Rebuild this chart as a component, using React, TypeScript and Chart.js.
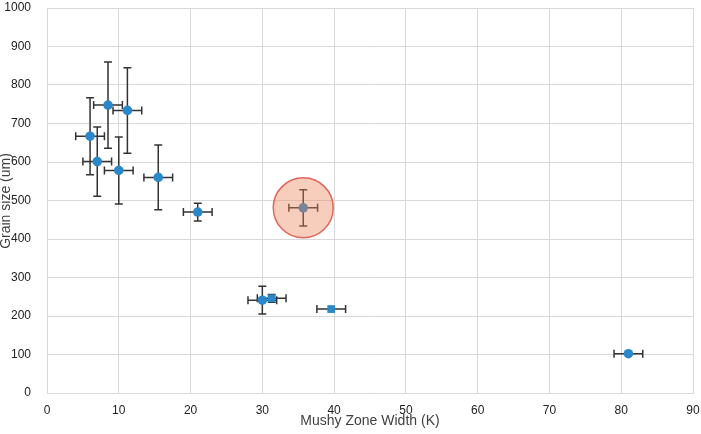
import React, { useEffect, useRef } from "react";
import { Chart, registerables } from "chart.js";

Chart.register(...registerables);

// Round markers: mushy zone width (K) vs grain size (um)
const circleX = [6.0, 8.5, 11.2, 7.0, 10.0, 15.5, 21.0, 35.7, 30.0, 81.0];
const circleY = [667, 748, 734, 601, 578, 560, 470, 481, 241, 102];
const circleXErr = [2, 2, 2, 2, 2, 2, 2, 2, 2, 2];
const circleYErr = [100, 112, 111, 90, 87, 84, 23, 47, 36, 0];

// Square markers
const squareX = [31.3, 39.6];
const squareY = [246, 218];
const squareXErr = [2, 2];
const squareYErr = [10, 0];

// Highlighted sample (index into the round-marker arrays)
const highlightIndex = 7;

const xTicks = [0, 10, 20, 30, 40, 50, 60, 70, 80, 90];
const yTicks = [0, 100, 200, 300, 400, 500, 600, 700, 800, 900, 1000];

const xTitle = "Mushy Zone Width (K)";
const yTitle = "Grain size (um)";

const FONT = "'Liberation Sans', Arial, sans-serif";
const BLUE = "#2a87c8";

const errorBars = {
  id: "errorBars",
  beforeDatasetsDraw(chart: any) {
    const { ctx } = chart;
    const xs = chart.scales.x;
    const ys = chart.scales.y;
    const cap = 4;
    ctx.save();
    ctx.strokeStyle = "#333333";
    ctx.lineWidth = 1.5;
    chart.data.datasets.forEach((ds: any) => {
      ds.data.forEach((p: any, i: number) => {
        const px = xs.getPixelForValue(p.x);
        const py = ys.getPixelForValue(p.y);
        const ex = ds.xErr[i];
        const ey = ds.yErr[i];
        ctx.beginPath();
        if (ex > 0) {
          const l = xs.getPixelForValue(p.x - ex);
          const r = xs.getPixelForValue(p.x + ex);
          ctx.moveTo(l, py);
          ctx.lineTo(r, py);
          ctx.moveTo(l, py - cap);
          ctx.lineTo(l, py + cap);
          ctx.moveTo(r, py - cap);
          ctx.lineTo(r, py + cap);
        }
        if (ey > 0) {
          const t = ys.getPixelForValue(p.y + ey);
          const b = ys.getPixelForValue(p.y - ey);
          ctx.moveTo(px, t);
          ctx.lineTo(px, b);
          ctx.moveTo(px - cap, t);
          ctx.lineTo(px + cap, t);
          ctx.moveTo(px - cap, b);
          ctx.lineTo(px + cap, b);
        }
        ctx.stroke();
      });
    });
    ctx.restore();
  },
};

const highlight = {
  id: "highlight",
  afterDatasetsDraw(chart: any) {
    const { ctx } = chart;
    const px = chart.scales.x.getPixelForValue(circleX[highlightIndex]);
    const py = chart.scales.y.getPixelForValue(circleY[highlightIndex]);
    ctx.save();
    ctx.beginPath();
    ctx.arc(px, py, 30, 0, Math.PI * 2);
    ctx.fillStyle = "rgba(235,130,85,0.4)";
    ctx.fill();
    ctx.lineWidth = 1.5;
    ctx.strokeStyle = "rgba(220,80,70,0.85)";
    ctx.stroke();
    ctx.restore();
  },
};

const titles = {
  id: "titles",
  afterDraw(chart: any) {
    const { ctx, chartArea } = chart;
    ctx.save();
    ctx.fillStyle = "#404040";
    ctx.font = `14px ${FONT}`;
    ctx.textAlign = "center";
    ctx.textBaseline = "middle";
    ctx.fillText(xTitle, (chartArea.left + chartArea.right) / 2, 421);
    ctx.translate(6, 201);
    ctx.rotate(-Math.PI / 2);
    ctx.fillText(yTitle, 0, 0);
    ctx.restore();
  },
};

export default function App() {
  const ref = useRef<HTMLCanvasElement>(null);

  useEffect(() => {
    if (!ref.current) return;
    const chart = new Chart(ref.current, {
      type: "scatter",
      data: {
        datasets: [
          {
            label: "round",
            data: circleX.map((x, i) => ({ x, y: circleY[i] })),
            xErr: circleXErr,
            yErr: circleYErr,
            pointStyle: "circle",
            pointRadius: 4.8,
            pointBackgroundColor: BLUE,
            pointBorderColor: BLUE,
            pointBorderWidth: 0,
          } as any,
          {
            label: "square",
            data: squareX.map((x, i) => ({ x, y: squareY[i] })),
            xErr: squareXErr,
            yErr: squareYErr,
            pointStyle: "rect",
            pointRadius: 5.5,
            pointBackgroundColor: BLUE,
            pointBorderColor: BLUE,
            pointBorderWidth: 0,
          } as any,
        ],
      },
      options: {
        animation: false,
        responsive: false,
        layout: { padding: { top: 8, right: 8, left: 0, bottom: 0 } },
        plugins: { legend: { display: false }, tooltip: { enabled: false } },
        scales: {
          x: {
            type: "linear",
            min: 0,
            max: 90,
            afterBuildTicks: (s: any) => {
              s.ticks = xTicks.map((v) => ({ value: v }));
            },
            afterFit: (s: any) => {
              s.height = 41;
            },
            grid: {
              color: "#d9d9d9",
              lineWidth: 1,
              drawTicks: true,
              tickLength: 10,
              tickColor: "rgba(0,0,0,0)",
            },
            border: { color: "#d9d9d9" },
            ticks: {
              color: "#222",
              font: { family: FONT, size: 12 },
              padding: 0,
              maxRotation: 0,
              callback: (v: any) => String(v),
            },
          },
          y: {
            type: "linear",
            min: 0,
            max: 1000,
            afterBuildTicks: (s: any) => {
              s.ticks = yTicks.map((v) => ({ value: v }));
            },
            afterFit: (s: any) => {
              s.width = 47;
            },
            grid: {
              color: "#d9d9d9",
              lineWidth: 1,
              drawTicks: true,
              tickLength: 16,
              tickColor: "rgba(0,0,0,0)",
            },
            border: { color: "#d9d9d9" },
            ticks: {
              color: "#222",
              font: { family: FONT, size: 12 },
              padding: 0,
              callback: (v: any) => String(v),
            },
          },
        },
      },
      plugins: [errorBars, highlight, titles],
    });
    return () => chart.destroy();
  }, []);

  return (
    <div style={{ position: "absolute", left: 0, top: 0, width: 701, height: 434, background: "#fff" }}>
      <canvas ref={ref} width={701} height={434} style={{ display: "block" }} />
    </div>
  );
}
